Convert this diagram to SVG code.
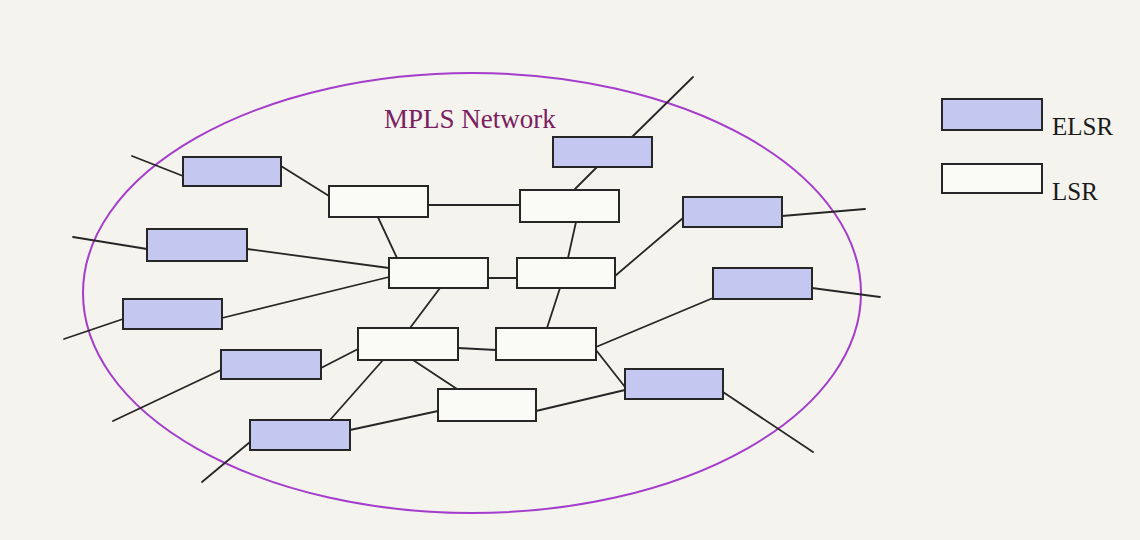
<svg xmlns="http://www.w3.org/2000/svg" width="1140" height="540" viewBox="0 0 1140 540">
  <style>
    .elsr { fill: #c4c7ef; stroke: #262626; stroke-width: 2; }
    .lsr { fill: #fafaf6; stroke: #262626; stroke-width: 2; }
    .link { stroke: #262626; stroke-width: 1.8; fill: none; stroke-linecap: round; }
    .label { font-family: "Liberation Serif", "Times New Roman", serif; }
  </style>
  <rect x="0" y="0" width="1140" height="540" fill="#f4f3ed"/>

  <!-- network boundary -->
  <g id="mpls-network">
    <ellipse cx="472" cy="293" rx="389" ry="220" fill="none" stroke="#a43ccc" stroke-width="2"/>
    <text class="label" x="384" y="128" font-size="27" fill="#7a2060">MPLS Network</text>
  </g>

  <!-- links -->
  <g id="connectors">
    <line class="link" x1="132" y1="156" x2="183" y2="176"/>
    <line class="link" x1="281" y1="166" x2="329" y2="196"/>
    <line class="link" x1="428" y1="205" x2="520" y2="205"/>
    <line class="link" x1="376" y1="213" x2="397" y2="258"/>
    <line class="link" x1="73" y1="237" x2="147" y2="249"/>
    <line class="link" x1="247" y1="249" x2="389" y2="268"/>
    <line class="link" x1="222" y1="318" x2="389" y2="277"/>
    <line class="link" x1="123" y1="319" x2="64" y2="339"/>
    <line class="link" x1="440" y1="288" x2="410" y2="328"/>
    <line class="link" x1="488" y1="278" x2="517" y2="278"/>
    <line class="link" x1="575" y1="189" x2="597" y2="167"/>
    <line class="link" x1="632" y1="137" x2="693" y2="77"/>
    <line class="link" x1="576" y1="222" x2="568" y2="258"/>
    <line class="link" x1="615" y1="276" x2="683" y2="218"/>
    <line class="link" x1="782" y1="216" x2="865" y2="209"/>
    <line class="link" x1="713" y1="298" x2="596" y2="347"/>
    <line class="link" x1="812" y1="288" x2="880" y2="297"/>
    <line class="link" x1="560" y1="288" x2="547" y2="328"/>
    <line class="link" x1="458" y1="348" x2="496" y2="350"/>
    <line class="link" x1="596" y1="350" x2="625" y2="387"/>
    <line class="link" x1="625" y1="390" x2="536" y2="411"/>
    <line class="link" x1="723" y1="392" x2="813" y2="452"/>
    <line class="link" x1="413" y1="360" x2="457" y2="389"/>
    <line class="link" x1="358" y1="349" x2="321" y2="368"/>
    <line class="link" x1="221" y1="370" x2="113" y2="421"/>
    <line class="link" x1="383" y1="360" x2="330" y2="420"/>
    <line class="link" x1="350" y1="430" x2="438" y2="411"/>
    <line class="link" x1="250" y1="442" x2="202" y2="482"/>
  </g>

  <!-- edge routers -->
  <g id="elsr-1"><rect class="elsr" x="183" y="157" width="98" height="29"/></g>
  <g id="elsr-2"><rect class="elsr" x="147" y="229" width="100" height="32"/></g>
  <g id="elsr-3"><rect class="elsr" x="123" y="299" width="99" height="30"/></g>
  <g id="elsr-4"><rect class="elsr" x="221" y="350" width="100" height="29"/></g>
  <g id="elsr-5"><rect class="elsr" x="250" y="420" width="100" height="30"/></g>
  <g id="elsr-6"><rect class="elsr" x="553" y="137" width="99" height="30"/></g>
  <g id="elsr-7"><rect class="elsr" x="683" y="197" width="99" height="30"/></g>
  <g id="elsr-8"><rect class="elsr" x="713" y="268" width="99" height="31"/></g>
  <g id="elsr-9"><rect class="elsr" x="625" y="369" width="98" height="30"/></g>

  <!-- core routers -->
  <g id="lsr-1"><rect class="lsr" x="329" y="186" width="99" height="31"/></g>
  <g id="lsr-2"><rect class="lsr" x="520" y="190" width="99" height="32"/></g>
  <g id="lsr-3"><rect class="lsr" x="389" y="258" width="99" height="30"/></g>
  <g id="lsr-4"><rect class="lsr" x="517" y="258" width="98" height="30"/></g>
  <g id="lsr-5"><rect class="lsr" x="358" y="328" width="100" height="32"/></g>
  <g id="lsr-6"><rect class="lsr" x="496" y="328" width="100" height="32"/></g>
  <g id="lsr-7"><rect class="lsr" x="438" y="389" width="98" height="32"/></g>

  <!-- legend -->
  <g id="legend-elsr">
    <rect class="elsr" x="942" y="99" width="100" height="31"/>
    <text class="label" x="1052" y="135" font-size="25" fill="#1a1a1a">ELSR</text>
  </g>
  <g id="legend-lsr">
    <rect class="lsr" x="942" y="164" width="100" height="29"/>
    <text class="label" x="1052" y="200" font-size="25" fill="#1a1a1a">LSR</text>
  </g>
</svg>
